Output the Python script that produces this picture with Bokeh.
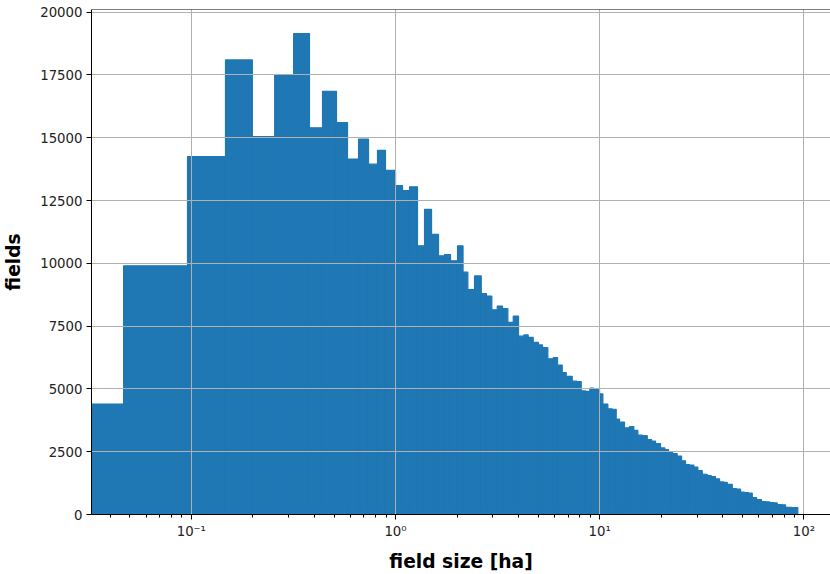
import numpy as np
from bokeh.plotting import figure
from bokeh.models import (Range1d, FixedTicker, SingleIntervalTicker, BasicTickFormatter,
                          CustomJSTickFormatter, Span, ColumnDataSource)
from bokeh.embed import file_html
from bokeh.resources import INLINE

# histogram bin edges (ha); the first bin starts at ~0 (off the log axis)
bin_edges = [
    0.001, 0.0466, 0.0958, 0.147, 0.199, 0.256, 0.317, 0.379, 0.439, 0.514,
    0.582, 0.659, 0.7375, 0.816, 0.893, 1.0,
    1.082, 1.171, 1.281, 1.387, 1.501, 1.624, 1.738, 1.859, 2.012, 2.141,
    2.26, 2.437, 2.629, 2.79, 2.962, 3.148, 3.342, 3.548, 3.771, 4.003,
    4.249, 4.466, 4.725, 5.015, 5.248, 5.57, 5.919, 6.214, 6.552, 6.854,
    7.335, 7.718, 8.118, 8.52, 8.944, 9.357, 9.977, 10.36, 10.96, 11.49,
    12.04, 12.5, 13.22, 13.99, 14.69, 15.37, 16.2, 17.09, 17.94, 18.76,
    19.85, 20.84, 21.73, 22.73, 23.96, 25.16, 26.32, 27.53, 28.9, 30.23,
    31.77, 33.6, 35.16, 36.9, 38.61, 40.39, 42.11, 44.57, 46.78, 48.93,
    51.19, 53.55, 55.84, 58.62, 62.0, 64.86, 68.08, 71.0, 74.0, 77.69,
    81.28, 87.0, 93.35,
]

# number of fields per bin
counts = [
    4400, 9900, 14250, 18100, 15050, 17500, 19150, 15400, 16850, 15600,
    14150, 14950, 13950, 14500, 13700,
    13100, 12900, 13050, 10700, 12150, 11150, 10300, 10350, 10100, 10700,
    9650, 8950, 9500, 8800, 8700, 8150, 8300, 8200, 7650, 7900,
    7100, 7150, 7050, 6850, 6750, 6650, 6200, 6250, 5950, 5650,
    5500, 5310, 5290, 4920, 4900, 5030, 4970, 4800, 4400, 4210,
    4190, 3800, 3680, 3450, 3500, 3350, 3160, 3140, 2980, 2920,
    2820, 2650, 2580, 2480, 2420, 2330, 2140, 1990, 1970, 1890,
    1750, 1600, 1550, 1510, 1420, 1300, 1280, 1200, 1030, 1010,
    890, 870, 850, 670, 590, 510, 500, 470, 460, 390,
    385, 285, 275,
]

x_major_ticks = [0.01, 0.1, 1, 10, 100, 1000]
y_tick_step = 2500

assert len(bin_edges) == len(counts) + 1

src = ColumnDataSource(dict(
    left=bin_edges[:-1], right=bin_edges[1:], top=counts, bottom=[0] * len(counts)))

y_end = max(counts) * 1.05

p = figure(width=830, height=574, x_axis_type="log",
           x_range=Range1d(0.03245, 134.9), y_range=Range1d(0, y_end),
           output_backend="svg", toolbar_location=None,
           min_border_left=91, min_border_right=0, min_border_top=9, min_border_bottom=60)

p.quad(left="left", right="right", top="top", bottom="bottom", source=src,
       fill_color="#1f77b4", line_color="#1f77b4", line_width=1.2)

FONT = "DejaVu Sans"
minor = [m * t for t in x_major_ticks for m in range(2, 10)]
p.xaxis.ticker = FixedTicker(ticks=x_major_ticks, minor_ticks=minor)
p.xaxis.formatter = CustomJSTickFormatter(code="""
const e = Math.round(Math.log10(tick));
const m = {"-":"\\u207b","0":"\\u2070","1":"\\u00b9","2":"\\u00b2","3":"\\u00b3",
           "4":"\\u2074","5":"\\u2075","6":"\\u2076","7":"\\u2077","8":"\\u2078","9":"\\u2079"};
return "10" + String(e).split("").map(c => m[c]).join("");
""")
p.yaxis.ticker = SingleIntervalTicker(interval=y_tick_step, num_minor_ticks=0)
p.yaxis.formatter = BasicTickFormatter(use_scientific=False)

p.xaxis.axis_label = "field size [ha]"
p.yaxis.axis_label = "fields"

for ax in (p.xaxis, p.yaxis):
    ax.axis_label_text_font = FONT
    ax.axis_label_text_font_style = "bold"
    ax.axis_label_text_font_size = "18.7px"
    ax.axis_label_text_color = "black"
    ax.major_label_text_font = FONT
    ax.major_label_text_font_size = "13.3px"
    ax.major_label_text_color = "#222222"
    ax.axis_line_color = "black"
    ax.axis_line_width = 1
    ax.major_tick_line_color = "black"
    ax.major_tick_out = 5
    ax.major_tick_in = 0
    ax.minor_tick_line_color = "black"
    ax.minor_tick_out = 3
    ax.minor_tick_in = 0
    ax.major_label_standoff = 4
    ax.level = "overlay"

p.yaxis.minor_tick_line_color = None
p.xaxis.axis_label_standoff = 9
p.yaxis.axis_label_standoff = 13

p.grid.grid_line_color = "#b0b0b0"
p.grid.grid_line_width = 1
p.grid.level = "annotation"
p.xgrid.ticker = FixedTicker(ticks=x_major_ticks)

p.outline_line_color = None
p.add_layout(Span(location=y_end, dimension="width", line_color="black", line_width=1))
p.background_fill_color = "white"
p.border_fill_color = "white"

open("out.html", "w").write(file_html(p, INLINE))
